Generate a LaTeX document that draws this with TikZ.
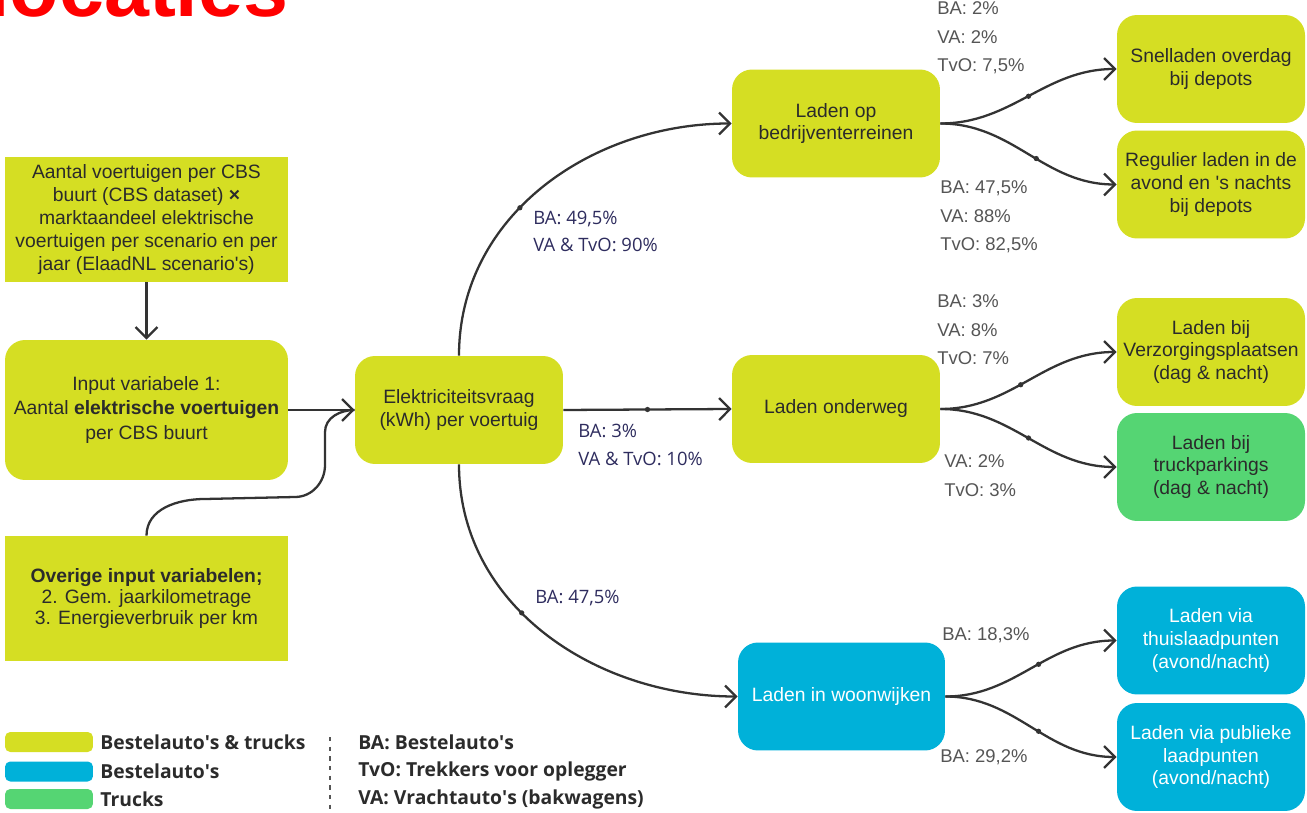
\documentclass[tikz,border=0pt]{standalone}
\usepackage{fontspec}
\setmainfont{Liberation Sans}
\newfontfamily\osans{Open Sans}
\usetikzlibrary{arrows.meta}
\definecolor{lime}{HTML}{D5DE23}
\definecolor{sky}{HTML}{00B1D9}
\definecolor{leaf}{HTML}{55D573}
\definecolor{ink}{HTML}{2B2B2B}
\definecolor{navy}{HTML}{2E2C5E}
\definecolor{greytxt}{HTML}{555555}
\definecolor{wire}{HTML}{333333}
\begin{document}
\begin{tikzpicture}[x=0.02cm,y=-0.02cm,
 box/.style={fill=lime, text=ink, align=center, font=\fontsize{11}{13}\selectfont, inner sep=0pt},
 rbox/.style={box, rounded corners=0.4cm},
 leftbox/.style={minimum width=5.66cm, minimum height=2.5cm},
 midbox/.style={rbox, minimum width=4.16cm, minimum height=2.16cm},
 rightbox/.style={rbox, minimum width=3.76cm, minimum height=2.16cm},
 conn/.style={draw=wire, line width=1.3pt, -{Straight Barb[length=2.2mm,width=4.4mm]}},
 plain/.style={draw=wire, line width=1.3pt},
 dotm/.style={circle, fill=wire, inner sep=0pt, minimum size=3pt},
 navylbl/.style={text=navy, font=\osans\fontsize{10.5}{15.5}\selectfont, align=left, anchor=west, inner sep=0pt},
 greylbl/.style={text=greytxt, font=\fontsize{10.5}{16.2}\selectfont, align=left, anchor=west, inner sep=0pt},
 legsw/.style={rounded corners=3pt, minimum width=1.76cm, minimum height=0.4cm, inner sep=0pt},
 legtxt/.style={text=ink, font=\osans\bfseries\fontsize{11}{13}\selectfont, anchor=west, inner sep=0pt},
]
\useasboundingbox (0,0) rectangle (1307,813);
\clip (0,0) rectangle (1307,813);

% title
\node[anchor=base west, text=red, font=\bfseries\fontsize{46}{46}\selectfont, inner sep=0pt] (title) at (-13,17) {locaties};

% left column
\node[box, leftbox] (tl) at (146.5,219.5) {Aantal voertuigen per CBS\\buurt (CBS dataset) \textbf{×}\\marktaandeel elektrische\\voertuigen per scenario en per\\jaar (ElaadNL scenario\textquotesingle s)};
\node[box, leftbox, rounded corners=0.4cm, minimum height=2.8cm, font=\fontsize{11}{14}\selectfont] (inp) at (146.5,410) {Input variabele 1:\\Aantal \textbf{elektrische voertuigen}\\per CBS buurt};
\node[box, leftbox, font=\fontsize{11}{12.2}\selectfont] (ovr) at (146.5,598.5) {\textbf{Overige input variabelen;}\\2. Gem. jaarkilometrage\\3. Energieverbruik per km};

% middle
\node[midbox] (elek) at (459,410) {Elektriciteitsvraag\\(kWh) per voertuig};
\node[midbox] (lob) at (836,123.5) {Laden op\\bedrijventerreinen};
\node[midbox] (ond) at (836,409) {Laden onderweg};
\node[midbox, fill=sky, text=white, minimum width=4.14cm] (woon) at (841.5,696.5) {Laden in woonwijken};

% right
\node[rightbox] (r1) at (1211,69) {Snelladen overdag\\bij depots};
\node[rightbox] (r2) at (1211,184.5) {Regulier laden in de\\avond en \textquotesingle s nachts\\bij depots};
\node[rightbox] (r3) at (1211,352) {Laden bij\\Verzorgingsplaatsen\\(dag \& nacht)};
\node[rightbox, fill=leaf] (r4) at (1211,467) {Laden bij\\truckparkings\\(dag \& nacht)};
\node[rightbox, fill=sky, text=white] (r5) at (1211,640.5) {Laden via\\thuislaadpunten\\(avond/nacht)};
\node[rightbox, fill=sky, text=white] (r6) at (1211,757) {Laden via publieke\\laadpunten\\(avond/nacht)};

% connectors
\draw[conn] (tl.south) -- (inp.north);
\draw[conn] (inp.east) -- (elek.west);
\coordinate (c1) at (205,499);
\coordinate (c2) at (295,497);
\coordinate (c3) at (325,465);
\coordinate (c4) at (325,432);
\draw[plain] (ovr.north) to[out=90,in=180] (c1) -- (c2) to[out=0,in=-90] (c3) -- (c4) to[out=90,in=180] (elek.west);

\draw[conn] (elek.north) to[out=90,in=180] node[dotm, pos=0.42] (d1) {} (lob.west);
\draw[conn] (elek.east) -- node[dotm, pos=0.5] (d2) {} (ond.west);
\draw[conn] (elek.south) to[out=-90,in=180] node[dotm, pos=0.42] (d3) {} (woon.west);

\draw[conn] (lob.east) to[out=0,in=180] node[dotm, pos=0.5] (d4) {} (r1.west);
\draw[conn] (lob.east) to[out=0,in=180] node[dotm, pos=0.55] (d5) {} (r2.west);
\draw[conn] (ond.east) to[out=0,in=180] node[dotm, pos=0.45] (d6) {} (r3.west);
\draw[conn] (ond.east) to[out=0,in=180] node[dotm, pos=0.5] (d7) {} (r4.west);
\draw[conn] (woon.east) to[out=0,in=180] node[dotm, pos=0.55] (d8) {} (r5.west);
\draw[conn] (woon.east) to[out=0,in=180] node[dotm, pos=0.55] (d9) {} (r6.west);

% labels
\node[navylbl] (l1) at (533,231.5) {BA: 49,5\%\\VA \& TvO: 90\%};
\node[navylbl] (l2) at (578,445) {BA: 3\%\\VA \& TvO: 10\%};
\node[navylbl] (l3) at (535,598) {BA: 47,5\%};
\node[greylbl] (g1) at (937,38) {BA: 2\%\\VA: 2\%\\TvO: 7,5\%};
\node[greylbl] (g2) at (940,217) {BA: 47,5\%\\VA: 88\%\\TvO: 82,5\%};
\node[greylbl] (g3) at (937,330) {BA: 3\%\\VA: 8\%\\TvO: 7\%};
\node[greylbl] (g4) at (944,475.5) {VA: 2\%\\TvO: 3\%};
\node[greylbl] (g5) at (942,635) {BA: 18,3\%};
\node[greylbl] (g6) at (940,757) {BA: 29,2\%};

% legend
\node[legsw, fill=lime] (ly) at (49,742) {};
\node[legsw, fill=sky] (lb) at (49,771.5) {};
\node[legsw, fill=leaf] (lg) at (49,799) {};
\node[legtxt] (t1) at (100,742) {Bestelauto\textquotesingle s \& trucks};
\node[legtxt] (t2) at (100,771.5) {Bestelauto\textquotesingle s};
\node[legtxt] (t3) at (100,799) {Trucks};
\coordinate (da) at (330,737);
\coordinate (db) at (330,810);
\draw[draw=greytxt, line width=0.8pt, dash pattern=on 2.5pt off 3pt] (da) -- (db);
\node[legtxt] (a1) at (358,742) {BA: Bestelauto\textquotesingle s};
\node[legtxt] (a2) at (358,771.5) {TvO: Trekkers voor oplegger};
\node[legtxt] (a3) at (358,799) {VA: Vrachtauto\textquotesingle s (bakwagens)};
\end{tikzpicture}
\end{document}
